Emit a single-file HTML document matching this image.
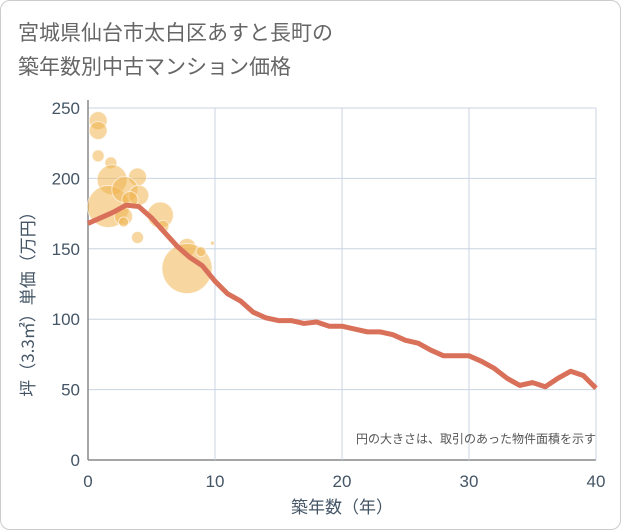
<!DOCTYPE html>
<html><head><meta charset="utf-8"><style>
body{margin:0;background:#fff;font-family:"Liberation Sans","Noto Sans CJK JP",sans-serif;}
#wrap{position:relative;width:619px;height:528px;border:1px solid #ccc;border-radius:10px;overflow:hidden;}
#title{position:absolute;left:17px;top:14px;font-size:21px;line-height:34px;color:#666;font-family:"Noto Sans CJK JP",sans-serif;}
</style></head><body>
<div id="wrap">
<div id="title">宮城県仙台市太白区あすと長町の<br>築年数別中古マンション価格</div>
<svg id="svg" width="621" height="530" style="position:absolute;left:-1px;top:-1px"></svg>
</div>
<script>
const xTicks=[0,10,20,30,40];
const yTicks=[0,50,100,150,200,250];
const lineYears=[0,1,2,3,4,5,6,7,8,9,10,11,12,13,14,15,16,17,18,19,20,21,22,23,24,25,26,27,28,29,30,31,32,33,34,35,36,37,38,39,40];
const linePrices=[168,172,176,181,180,172,162,152,144,138,127,118,113,105,101,99,99,97,98,95,95,93,91,91,89,85,83,78,74,74,74,70,65,58,53,55,52,58,63,60,51];
const bubbleYears=[0.8,0.8,0.8,1.8,1.9,3.9,1.6,2.9,4,2.8,2.8,5.7,5.9,3.9,7.8,7.8,8.9,9.8,3.3];
const bubblePrices=[241,234,216,211,199,201,180,192,188,173,169,174,166,158,151,136,148,154,185];
const bubbleSizes=[9,9,6,6,15,9,21,13,10,9,5,13,6,6,9,25,5,2,8];
const NS="http://www.w3.org/2000/svg";
const svg=document.getElementById('svg');
const X=v=>88+v*(596-88)/40;
const Y=v=>460-v*(460-108)/250;
function mk(t,a,p){const e=document.createElementNS(NS,t);for(const k in a)e.setAttribute(k,a[k]);(p||svg).appendChild(e);return e;}
for(const t of yTicks){
 const l=mk('line',{x1:88,x2:596,y1:Y(t),y2:Y(t),stroke:t===0?'#888':'#c8d4e0','stroke-width':t===0?1.5:1});
 
 
 const tx=mk('text',{x:80,y:Y(t)+6,'text-anchor':'end','font-size':17,fill:'#445566'});
 tx.textContent=t;
 
 
}
for(const t of xTicks){
 if(t>0){const l=mk('line',{x1:X(t),x2:X(t),y1:108,y2:460,stroke:'#c8d4e0','stroke-width':1});
 
 }
 const tx=mk('text',{x:X(t),y:487,'text-anchor':'middle','font-size':17,fill:'#445566'});
 tx.textContent=t;
 
 
}
const ax=mk('line',{x1:88,x2:88,y1:100,y2:460,stroke:'#888','stroke-width':1.5});


for(let i=0;i<bubbleYears.length;i++){
 const c=mk('circle',{cx:X(bubbleYears[i]),cy:Y(bubblePrices[i]),r:bubbleSizes[i],fill:'rgba(240,180,80,0.55)',stroke:'rgba(255,255,255,0.6)','stroke-width':1});
 
 
}
const pl=mk('polyline',{points:lineYears.map((y,i)=>X(y)+','+Y(linePrices[i])).join(' '),fill:'none',stroke:'#d9705a','stroke-width':5,'stroke-linejoin':'round'});


const note=mk('text',{x:596,y:443,'text-anchor':'end','font-size':12,fill:'#555','font-family':'Noto Sans CJK JP,sans-serif'});
note.textContent='円の大きさは、取引のあった物件面積を示す';


const xt=mk('text',{x:342,y:513,'text-anchor':'middle','font-size':17,fill:'#445566','font-family':'Noto Sans CJK JP,sans-serif'});
xt.textContent='築年数（年）';


const yt=mk('text',{x:0,y:0,'text-anchor':'middle','font-size':17,fill:'#445566','font-family':'Noto Sans CJK JP,sans-serif',transform:'translate(34,300) rotate(-90)'});
yt.textContent='坪（3.3㎡）単価（万円）';


</script>
</body></html>
